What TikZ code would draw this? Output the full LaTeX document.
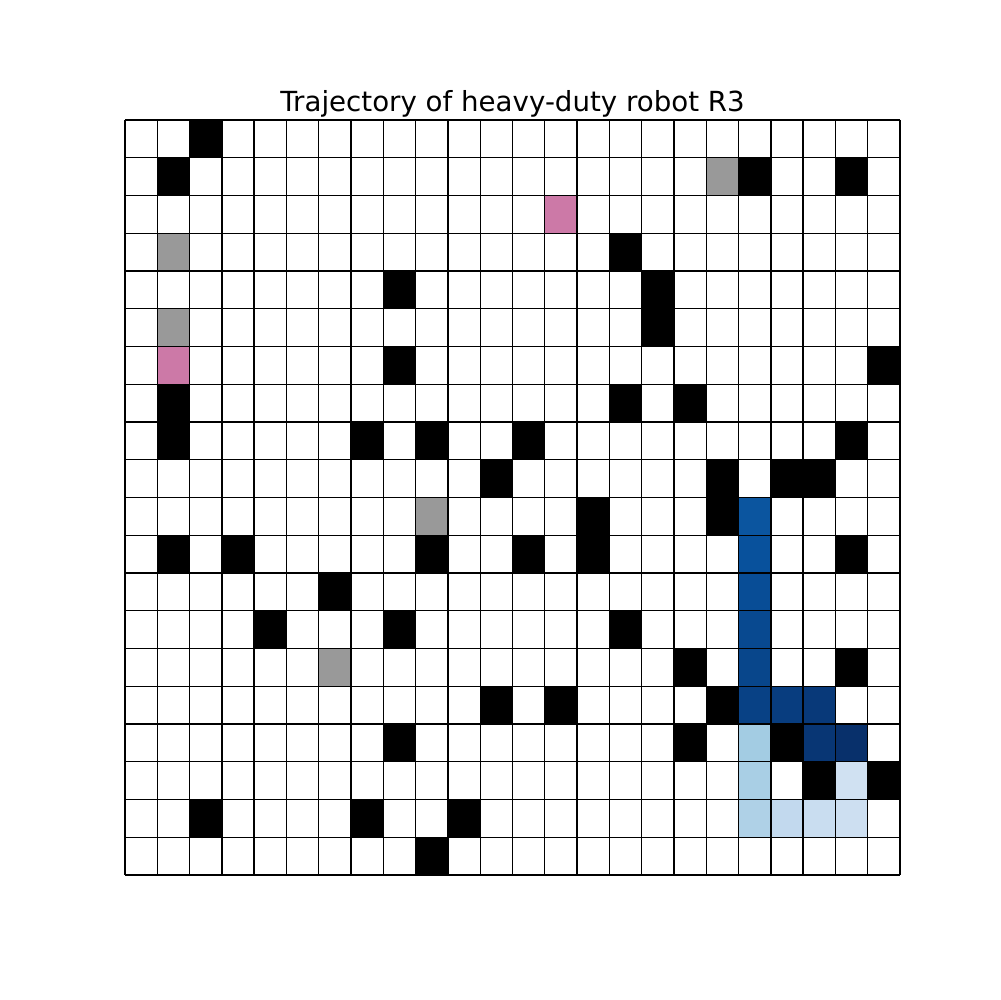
\documentclass[tikz,border=0pt]{standalone}
\usepackage{fontspec}
\setmainfont{DejaVu Sans}
\definecolor{pinkc}{HTML}{CC79A7}
\definecolor{grayc}{HTML}{999999}
\begin{document}
\begin{tikzpicture}[x=0.0254cm,y=-0.0254cm,
  cellgrid/.style={draw=black,line width=1pt},
  title/.style={font=\fontsize{20}{24}\selectfont,anchor=base}]
\useasboundingbox (0,0) rectangle (1000,1000);
\def\cw{32.2917}
\def\ch{37.75}
\newcommand{\cellfill}[3]{\fill[#3] ({125+#2*\cw},{120+#1*\ch}) rectangle ({125+(#2+1)*\cw},{120+(#1+1)*\ch});}
% obstacles (row,col)
\foreach \r/\c in {0/2,1/1,1/19,1/22,3/15,4/8,4/16,5/16,6/8,6/23,7/1,7/15,7/17,8/1,8/7,8/9,8/12,8/22,9/11,9/18,9/20,9/21,10/14,10/18,11/1,11/3,11/9,11/12,11/14,11/22,12/6,13/4,13/8,13/15,14/17,14/22,15/11,15/13,15/18,16/8,16/17,16/20,17/21,17/23,18/2,18/7,18/10,19/9}
  {\cellfill{\r}{\c}{black}}
\foreach \r/\c in {1/18,3/1,5/1,10/9,14/6}
  {\cellfill{\r}{\c}{grayc}}
\foreach \r/\c in {2/13,6/1}
  {\cellfill{\r}{\c}{pinkc}}
% trajectory
\foreach \r/\c/\h in {10/19/0B559F,11/19/08519C,12/19/084D96,13/19/084990,14/19/08468B,15/19/084185,15/20/083D7F,15/21/083979,16/21/083674,16/22/08306B,16/19/A3CCE3,17/19/A9CFE5,18/19/AFD1E7,18/20/C2D9EE,18/21/C9DDF0,18/22/CDDFF1,17/22/D0E1F2}
  {\definecolor{tc}{HTML}{\h}\cellfill{\r}{\c}{tc}}
% grid
\foreach \i in {0,...,24} \draw[cellgrid] ({125+\i*\cw},120) -- ({125+\i*\cw},875);
\foreach \j in {0,...,20} \draw[cellgrid] (125,{120+\j*\ch}) -- (900,{120+\j*\ch});
\node[title] (t) at (512.5,112) {Trajectory of heavy-duty robot R3};
\end{tikzpicture}
\end{document}
